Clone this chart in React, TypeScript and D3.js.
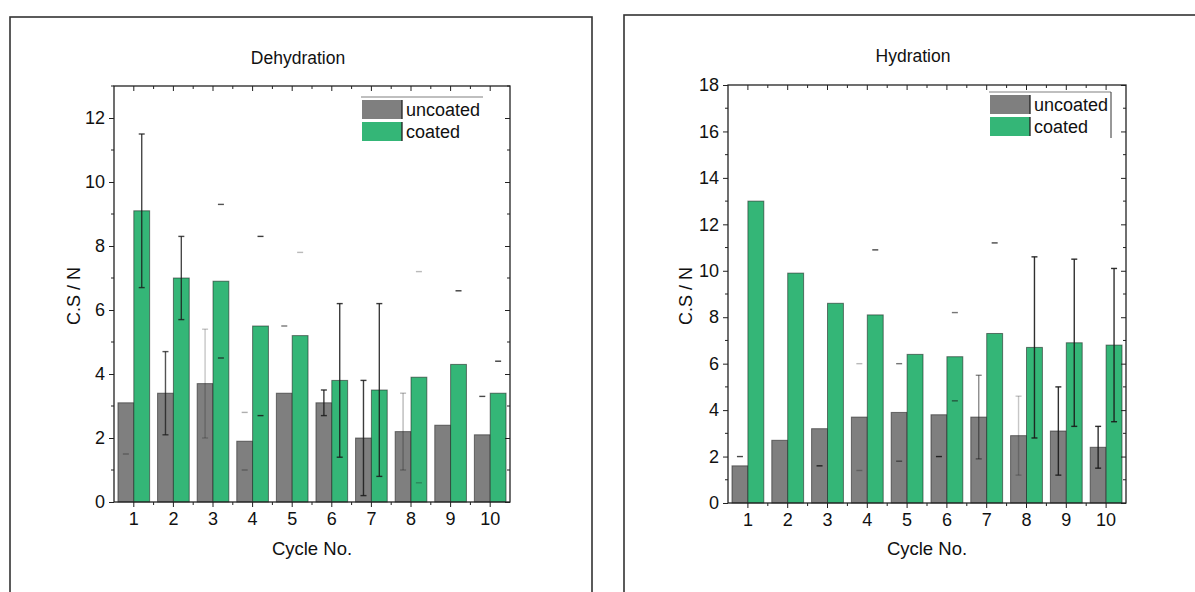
import * as d3 from "d3";
import { useEffect, useRef } from "react";

const cycles = ["1", "2", "3", "4", "5", "6", "7", "8", "9", "10"];
const seriesNames = ["uncoated", "coated"];
const seriesColors = ["#7f7f7f", "#34b677"];

// Dehydration
const dehyUncoated = [3.1, 3.4, 3.7, 1.9, 3.4, 3.1, 2.0, 2.2, 2.4, 2.1];
const dehyCoated = [9.1, 7.0, 6.9, 5.5, 5.2, 3.8, 3.5, 3.9, 4.3, 3.4];
const dehyUncoatedLo = [1.5, 2.1, 2.0, 1.0, null, 2.7, 0.2, 1.0, null, null];
const dehyUncoatedHi = [null, 4.7, 5.4, 2.8, 5.5, 3.5, 3.8, 3.4, null, 3.3];
const dehyCoatedLo = [6.7, 5.7, 4.5, 2.7, null, 1.4, 0.8, 0.6, null, null];
const dehyCoatedHi = [11.5, 8.3, 9.3, 8.3, 7.8, 6.2, 6.2, 7.2, 6.6, 4.4];
const dehyYTicks = [0, 2, 4, 6, 8, 10, 12];

// Hydration
const hydUncoated = [1.6, 2.7, 3.2, 3.7, 3.9, 3.8, 3.7, 2.9, 3.1, 2.4];
const hydCoated = [13.0, 9.9, 8.6, 8.1, 6.4, 6.3, 7.3, 6.7, 6.9, 6.8];
const hydUncoatedLo = [null, null, 1.6, 1.4, 1.8, 2.0, 1.9, 1.2, 1.2, 1.5];
const hydUncoatedHi = [2.0, null, null, 6.0, 6.0, null, 5.5, 4.6, 5.0, 3.3];
const hydCoatedLo = [null, null, null, null, null, 4.4, null, 2.8, 3.3, 3.5];
const hydCoatedHi = [null, null, null, 10.9, null, 8.2, 11.2, 10.6, 10.5, 10.1];
const hydYTicks = [0, 2, 4, 6, 8, 10, 12, 14, 16, 18];

// how the error bars show up in the original export (stem drawn or caps only, and darkness)
const dehyUncoatedStem = [0, 1, 1, 0, 0, 1, 1, 1, 0, 0];
const dehyUncoatedShade = [0.35, 0.75, 0.25, 0.35, 0.6, 0.85, 0.85, 0.3, 0, 0.8];
const dehyCoatedStem = [1, 1, 0, 0, 0, 1, 1, 0, 0, 0];
const dehyCoatedShade = [0.8, 0.8, 0.75, 0.85, 0.3, 0.85, 0.85, 0.3, 0.85, 0.85];
const hydUncoatedStem = [0, 0, 0, 0, 0, 0, 1, 1, 1, 1];
const hydUncoatedShade = [0.8, 0, 0.9, 0.3, 0.6, 0.9, 0.5, 0.25, 0.9, 0.9];
const hydCoatedStem = [0, 0, 0, 0, 0, 0, 0, 1, 1, 1];
const hydCoatedShade = [0, 0, 0, 0.8, 0, 0.6, 0.8, 0.9, 0.9, 0.9];

const FONT = "'Liberation Sans', Arial, sans-serif";

function drawPanel(svg: any, p: any) {
  const g = svg.append("g");

  // outer frame of the panel
  g.append("rect")
    .attr("x", p.frame[0])
    .attr("y", p.frame[1])
    .attr("width", p.frame[2])
    .attr("height", p.frame[3])
    .attr("fill", "none")
    .attr("stroke", "#333")
    .attr("stroke-width", 1.6);

  const x0 = d3
    .scaleBand()
    .domain(cycles)
    .range([p.left, p.right])
    .paddingInner(0.2)
    .paddingOuter(0.1);
  const x1 = d3.scaleBand().domain(seriesNames).range([0, x0.bandwidth()]);
  const y = d3.scaleLinear().domain([0, p.yMax]).range([p.bottom, p.top]);

  // bars
  p.values.forEach((vals: number[], si: number) => {
    g.append("g")
      .selectAll("rect")
      .data(vals)
      .enter()
      .append("rect")
      .attr("x", (d: number, i: number) => (x0(cycles[i]) as number) + (x1(seriesNames[si]) as number))
      .attr("y", (d: number) => y(d))
      .attr("width", x1.bandwidth())
      .attr("height", (d: number) => y(0) - y(d))
      .attr("fill", seriesColors[si])
      .attr("stroke", "#1a1a1a")
      .attr("stroke-opacity", 0.55)
      .attr("stroke-width", 1);
  });

  // error bars
  p.values.forEach((vals: number[], si: number) => {
    const eg = g.append("g").attr("stroke", "#1a1a1a").attr("stroke-width", 1.4);
    vals.forEach((v, i) => {
      const shade = p.shade[si][i];
      if (!shade) return;
      const cx = (x0(cycles[i]) as number) + (x1(seriesNames[si]) as number) + x1.bandwidth() / 2;
      const lo = p.lo[si][i];
      const hi = p.hi[si][i];
      const b = eg.append("g").attr("stroke-opacity", shade);
      if (p.stem[si][i] && lo != null && hi != null) {
        b.append("line").attr("x1", cx).attr("x2", cx).attr("y1", y(lo)).attr("y2", y(hi));
      }
      [lo, hi].forEach((e) => {
        if (e == null) return;
        b.append("line").attr("x1", cx - 3).attr("x2", cx + 3).attr("y1", y(e)).attr("y2", y(e));
      });
    });
  });

  // axes
  const minorY = d3.range(1, p.yMax + 0.5, 2);
  const minorX = d3.range(1, cycles.length).map((i) => (x0(cycles[i]) as number) - (x0.step() * 0.2) / 2);

  const styleAxis = (a: any) => {
    a.select(".domain").remove();
    a.selectAll("line").attr("stroke", "#222").attr("stroke-width", 1);
    a.selectAll("text").attr("font-family", FONT).attr("font-size", 18).attr("fill", "#111");
  };

  const left = g
    .append("g")
    .attr("transform", `translate(${p.left},0)`)
    .call(d3.axisLeft(y).tickValues(p.yTicks).tickSize(5).tickPadding(4).tickFormat(d3.format("d")));
  styleAxis(left);
  const right = g
    .append("g")
    .attr("transform", `translate(${p.right},0)`)
    .call(d3.axisRight(y).tickValues(p.yTicks).tickSize(-5).tickFormat(() => ""));
  styleAxis(right);
  const bottom = g
    .append("g")
    .attr("transform", `translate(0,${p.bottom})`)
    .call(d3.axisBottom(x0).tickSize(5).tickPadding(5));
  styleAxis(bottom);
  const top = g
    .append("g")
    .attr("transform", `translate(0,${p.top})`)
    .call(d3.axisTop(x0).tickSize(-5).tickFormat(() => ""));
  styleAxis(top);

  const mg = g.append("g").attr("stroke", "#222").attr("stroke-width", 1);
  minorY.forEach((v) => {
    mg.append("line").attr("x1", p.left - 3).attr("x2", p.left).attr("y1", y(v)).attr("y2", y(v));
    mg.append("line").attr("x1", p.right - 3).attr("x2", p.right).attr("y1", y(v)).attr("y2", y(v));
  });
  minorX.forEach((v) => {
    mg.append("line").attr("x1", v).attr("x2", v).attr("y1", p.bottom).attr("y2", p.bottom + 3);
    mg.append("line").attr("x1", v).attr("x2", v).attr("y1", p.top).attr("y2", p.top + 3);
  });

  // plot box
  g.append("rect")
    .attr("x", p.left)
    .attr("y", p.top)
    .attr("width", p.right - p.left)
    .attr("height", p.bottom - p.top)
    .attr("fill", "none")
    .attr("stroke", "#222")
    .attr("stroke-width", 1.3);

  // legend
  const lg = g.append("g");
  lg.append("line")
    .attr("x1", p.legend[0] - 1)
    .attr("x2", p.legend[0] + 121)
    .attr("y1", p.legend[1] - 3)
    .attr("y2", p.legend[1] - 3)
    .attr("stroke", "#aaa")
    .attr("stroke-width", 1.3);
  if (p.legendSide) {
    lg.append("line")
      .attr("x1", p.legend[0] + 121)
      .attr("x2", p.legend[0] + 121)
      .attr("y1", p.legend[1] - 3)
      .attr("y2", p.legend[1] + 43)
      .attr("stroke", "#333")
      .attr("stroke-width", 1);
  }
  seriesNames.forEach((name, si) => {
    const yy = p.legend[1] + si * 22;
    lg.append("rect")
      .attr("x", p.legend[0])
      .attr("y", yy)
      .attr("width", 40)
      .attr("height", 19)
      .attr("fill", seriesColors[si]);
    lg.append("line")
      .attr("x1", p.legend[0] + 40)
      .attr("x2", p.legend[0] + 40)
      .attr("y1", yy)
      .attr("y2", yy + 19)
      .attr("stroke", "#222")
      .attr("stroke-width", 1.3);
    lg.append("text")
      .attr("x", p.legend[0] + 44)
      .attr("y", yy + 16)
      .attr("font-family", FONT)
      .attr("font-size", 18)
      .attr("fill", "#111")
      .text(name);
  });

  // titles
  g.append("text")
    .attr("x", (p.left + p.right) / 2 - 14)
    .attr("y", p.titleY)
    .attr("text-anchor", "middle")
    .attr("font-family", FONT)
    .attr("font-size", 17.5)
    .attr("fill", "#111")
    .text(p.title);
  g.append("text")
    .attr("x", (p.left + p.right) / 2)
    .attr("y", 555)
    .attr("text-anchor", "middle")
    .attr("font-family", FONT)
    .attr("font-size", 18.5)
    .attr("fill", "#111")
    .text("Cycle No.");
  g.append("text")
    .attr("transform", `translate(${p.yLabelX},${(p.top + p.bottom) / 2 + 2}) rotate(-90)`)
    .attr("text-anchor", "middle")
    .attr("font-family", FONT)
    .attr("font-size", 18)
    .attr("fill", "#111")
    .text("C.S / N");
}

export default function App() {
  const ref = useRef(null);

  useEffect(() => {
    const svg = d3.select(ref.current);
    svg.selectAll("*").remove();
    svg.append("rect").attr("width", 1195).attr("height", 592).attr("fill", "#fff");

    drawPanel(svg, {
      title: "Dehydration",
      frame: [10, 17, 582, 600],
      left: 114,
      right: 510,
      top: 86,
      bottom: 502,
      yMax: 13,
      yTicks: dehyYTicks,
      values: [dehyUncoated, dehyCoated],
      lo: [dehyUncoatedLo, dehyCoatedLo],
      hi: [dehyUncoatedHi, dehyCoatedHi],
      stem: [dehyUncoatedStem, dehyCoatedStem],
      shade: [dehyUncoatedShade, dehyCoatedShade],
      legend: [362, 100],
      legendSide: false,
      titleY: 64,
      yLabelX: 80,
    });

    drawPanel(svg, {
      title: "Hydration",
      frame: [624, 15, 600, 600],
      left: 728,
      right: 1126,
      top: 85,
      bottom: 503,
      yMax: 18,
      yTicks: hydYTicks,
      values: [hydUncoated, hydCoated],
      lo: [hydUncoatedLo, hydCoatedLo],
      hi: [hydUncoatedHi, hydCoatedHi],
      stem: [hydUncoatedStem, hydCoatedStem],
      shade: [hydUncoatedShade, hydCoatedShade],
      legend: [990, 95],
      legendSide: true,
      titleY: 62,
      yLabelX: 692,
    });
  }, []);

  return (
    <svg
      ref={ref}
      width={1195}
      height={592}
      style={{ position: "absolute", left: 0, top: 0, display: "block" }}
    />
  );
}
